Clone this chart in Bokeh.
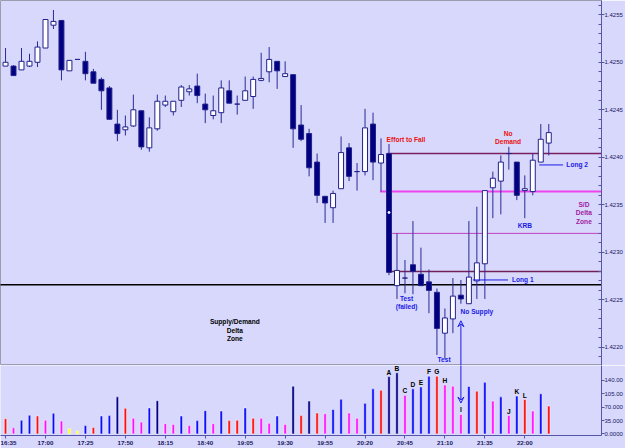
from bokeh.plotting import figure
from bokeh.layouts import column
from bokeh.models import (Range1d, FixedTicker, PrintfTickFormatter, ColumnDataSource,
                          Label, Arrow, VeeHead)
from bokeh.core.properties import value
from bokeh.embed import file_html
from bokeh.resources import INLINE

# ---------------- data ----------------
tick_times = ["16:35", "17:00", "17:25", "17:50", "18:15", "18:40", "19:05",
              "19:30", "19:55", "20:20", "20:45", "21:10", "21:35", "22:00"]

opens = [1.42496, 1.42496, 1.42492, 1.42496, 1.42500, 1.42515, 1.42539, 1.42544, 1.42491, 1.42503,
         1.42501, 1.42490, 1.42482, 1.42473, 1.42435, 1.42429, 1.42433, 1.42449, 1.42410, 1.42430,
         1.42455, 1.42448, 1.42460, 1.42469, 1.42475, 1.42456, 1.42444, 1.42447, 1.42470, 1.42456,
         1.42460, 1.42464, 1.42481, 1.42490, 1.42501, 1.42485, 1.42487, 1.42434, 1.42425, 1.42395,
         1.42359, 1.42347, 1.42367, 1.42410, 1.42385, 1.42385, 1.42435, 1.42394, 1.42404, 1.42265,
         1.42273, 1.42287, 1.42277, 1.42269, 1.42258, 1.42215, 1.42230, 1.42255, 1.42246, 1.42270,
         1.42288, 1.42368, 1.42375, 1.42404, 1.42395, 1.42365, 1.42364, 1.42395, 1.42415]
highs = [1.42515, 1.42497, 1.42515, 1.42509, 1.42522, 1.42545, 1.42555, 1.42544, 1.42502, 1.42503,
         1.42511, 1.42493, 1.42484, 1.42475, 1.42450, 1.42444, 1.42466, 1.42449, 1.42442, 1.42466,
         1.42465, 1.42459, 1.42476, 1.42476, 1.42488, 1.42467, 1.42465, 1.42481, 1.42481, 1.42465,
         1.42485, 1.42485, 1.42510, 1.42516, 1.42501, 1.42501, 1.42487, 1.42455, 1.42430, 1.42404,
         1.42359, 1.42365, 1.42422, 1.42415, 1.42394, 1.42451, 1.42447, 1.42420, 1.42414, 1.42320,
         1.42292, 1.42333, 1.42305, 1.42282, 1.42262, 1.42241, 1.42273, 1.42271, 1.42333, 1.42348,
         1.42365, 1.42385, 1.42402, 1.42411, 1.42395, 1.42381, 1.42404, 1.42435, 1.42435]
lows = [1.42496, 1.42486, 1.42492, 1.42495, 1.42495, 1.42515, 1.42535, 1.42481, 1.42491, 1.42503,
        1.42481, 1.42478, 1.42450, 1.42440, 1.42417, 1.42423, 1.42432, 1.42408, 1.42406, 1.42428,
        1.42453, 1.42444, 1.42453, 1.42465, 1.42457, 1.42436, 1.42440, 1.42436, 1.42457, 1.42445,
        1.42460, 1.42451, 1.42480, 1.42479, 1.42472, 1.42485, 1.42410, 1.42417, 1.42380, 1.42352,
        1.42331, 1.42331, 1.42367, 1.42375, 1.42365, 1.42381, 1.42376, 1.42364, 1.42276, 1.42251,
        1.42257, 1.42256, 1.42265, 1.42236, 1.42192, 1.42188, 1.42215, 1.42246, 1.42246, 1.42251,
        1.42251, 1.42336, 1.42340, 1.42387, 1.42355, 1.42336, 1.42360, 1.42395, 1.42402]
closes = [1.42500, 1.42486, 1.42501, 1.42501, 1.42516, 1.42545, 1.42543, 1.42492, 1.42502, 1.42503,
          1.42488, 1.42478, 1.42470, 1.42440, 1.42425, 1.42432, 1.42450, 1.42411, 1.42431, 1.42459,
          1.42459, 1.42459, 1.42474, 1.42472, 1.42465, 1.42450, 1.42449, 1.42473, 1.42457, 1.42456,
          1.42470, 1.42482, 1.42483, 1.42503, 1.42491, 1.42488, 1.42430, 1.42419, 1.42389, 1.42360,
          1.42352, 1.42362, 1.42405, 1.42380, 1.42385, 1.42431, 1.42395, 1.42403, 1.42279, 1.42281,
          1.42273, 1.42280, 1.42265, 1.42260, 1.42220, 1.42231, 1.42254, 1.42251, 1.42274, 1.42289,
          1.42365, 1.42378, 1.42395, 1.42404, 1.42360, 1.42367, 1.42397, 1.42419, 1.42426]

volumes = [40, 16, 36, 49, 47, 36, 54, 34, 14, 8,
           22, 17, 47, 48, 97, 67, 41, 31, 68, 87,
           27, 25, 47, 22, 35, 61, 27, 60, 35, 36,
           68, 41, 41, 28, 47, 25, 125, 48, 86, 55,
           53, 64, 91, 55, 41, 80, 118, 114, 150, 160,
           101, 118, 123, 151, 151, 128, 125, 51, 124, 112,
           135, 86, 97, 48, 99, 90, 60, 105, 73]
vol_class = list("rmbbrmbmyybrbbnrmmbnmmbmbbmbrrbrmmbmnrnrmbbmmbbrnnmbbbrmmmbrbmbmbrmbr")

vol_letters = ["A", "B", "C", "D", "E", "F", "G", "H", "I", "J", "K", "L"]
vol_letter_bars = [48, 49, 50, 51, 52, 53, 54, 55, 57, 63, 64, 65]

price_ticks = [1.4220, 1.4225, 1.4230, 1.4235, 1.4240, 1.4245, 1.4250, 1.4255]
vol_ticks = [0, 35, 70, 105, 140]
vol_tick_labels = ["0.0000", "35.000", "70.000", "105.00", "140.00"]
last_price_label = "1.4242"

# support / resistance levels: price, first bar
level_price = [1.42404, 1.42364, 1.42320, 1.42280, 1.42266]
level_start = [47.8, 46.9, 48.4, 47.8, -5]

# ---------------- styling ----------------
BG = "#d8d8fc"
FONT = "Liberation Sans"
AXIS_C = "#5656a6"
LABEL_C = "#16165e"
NAVY = "#000080"
RED = "#e81010"
BLUE = "#1a1ae6"
PURPLE = "#a020a0"
vol_palette = {"r": "#ff1010", "m": "#ff10ff", "b": "#0a0aff", "n": "#000088", "y": "#ffff00"}
level_colors = ["#7a2060", "#ee44ee", "#c040c0", "#742058", "#000000"]
level_widths = [1.5, 2, 1, 1.5, 1.5]

n = len(opens)
idx = list(range(n))
X0, X1 = -0.63, 74.6


def style_axis(ax, size="6px", bold=False):
    ax.axis_line_color = AXIS_C
    ax.major_tick_line_color = AXIS_C
    ax.major_tick_in = 0
    ax.major_tick_out = 3
    ax.major_label_standoff = 0
    ax.major_label_text_font = FONT
    ax.major_label_text_font_size = size
    ax.major_label_text_color = LABEL_C
    if bold:
        ax.major_label_text_font_style = "bold"


# ---------------- price panel ----------------
p = figure(width=625, height=365, output_backend="svg", toolbar_location=None,
           x_range=Range1d(X0, X1), y_range=Range1d(1.42181, 1.42565),
           x_axis_location=None, y_axis_location="right",
           min_border_left=0, min_border_right=0, min_border_top=0, min_border_bottom=0,
           background_fill_color=BG, border_fill_color=BG,
           outline_line_color="#9c9cb0", outline_line_width=1)
p.grid.visible = False

ay = p.yaxis[0]
minor = [round(1.4218 + 0.0001 * k, 4) for k in range(39)]
ay.ticker = FixedTicker(ticks=price_ticks, minor_ticks=minor)
ay.formatter = PrintfTickFormatter(format="%.4f")
style_axis(ay)
ay.minor_tick_line_color = AXIS_C
ay.minor_tick_in = 3
ay.minor_tick_out = 0

# levels
p.segment(x0=level_start, y0=level_price, x1=[X1 + 5] * len(level_price), y1=level_price,
          line_color=level_colors, line_width=level_widths)

# candles
src = ColumnDataSource(dict(
    x=idx, o=opens, h=highs, l=lows, c=closes,
    top=[max(a, b) for a, b in zip(opens, closes)],
    bot=[min(a, b) for a, b in zip(opens, closes)],
    fill=["#ffffff" if c > o else NAVY for o, c in zip(opens, closes)],
))
p.segment(x0="x", y0="l", x1="x", y1="h", source=src, line_color="#2a2a96", line_width=1)
p.vbar(x="x", top="top", bottom="bot", width=0.62, source=src,
       fill_color="fill", line_color="#22228c", line_width=1)

# white marker inside the wide bar
p.scatter(x=[48], y=[1.42342], size=2, color="white")

# "Long" pointer lines
p.segment(x0=[58.5, 66.8], y0=[1.42271, 1.42392], x1=[62.9, 69.8], y1=[1.42271, 1.42392],
          line_color=BLUE, line_width=1)

ann = ColumnDataSource(dict(
    x=[47.7, 62.9, 62.9, 70.2, 72.4, 72.4, 72.4, 65.0, 63.4, 50.2, 50.2, 59.0, 54.9, 28.7, 28.7, 28.7],
    y=[1.42419, 1.42425, 1.42417, 1.42392, 1.42350, 1.42342, 1.42332, 1.42328, 1.42271,
       1.42251, 1.42243, 1.42238, 1.42187, 1.42227, 1.42218, 1.42209],
    t=["Effort to Fall", "No", "Demand", "Long 2", "S/D", "Delta", "Zone", "KRB", "Long 1",
       "Test", "(failed)", "No Supply", "Test", "Supply/Demand", "Delta", "Zone"],
    col=[RED, RED, RED, BLUE, PURPLE, PURPLE, PURPLE, BLUE, BLUE,
         BLUE, BLUE, BLUE, BLUE, "#000000", "#000000", "#000000"],
    al=["left", "center", "center", "left", "center", "center", "center", "center", "left",
        "center", "center", "center", "center", "center", "center", "center"],
))
p.text(x="x", y="y", text="t", text_color="col", text_align="al", text_baseline="middle",
       text_font=value(FONT), text_font_size="6.6px", text_font_style="bold", source=ann)

p.add_layout(Arrow(end=VeeHead(size=6, line_color=BLUE, line_width=1, fill_color=None),
                   x_start=57, y_start=1.42150, x_end=57, y_end=1.42228,
                   line_color=BLUE, line_width=1))

p.add_layout(Label(x=X1, y=1.42426, x_offset=1, text=last_price_label,
                   text_font=FONT, text_font_size="6px", text_color="white",
                   text_baseline="middle", background_fill_color="#0c0c66",
                   text_font_style="bold"))

# ---------------- volume panel ----------------
v = figure(width=625, height=83, output_backend="svg", toolbar_location=None,
           x_range=p.x_range, y_range=Range1d(-4, 179), y_axis_location="right",
           min_border_left=0, min_border_right=0, min_border_top=0, min_border_bottom=0,
           background_fill_color=BG, border_fill_color=BG, outline_line_color=None)
v.grid.visible = False

vsrc = ColumnDataSource(dict(x=idx, v=volumes, col=[vol_palette[k] for k in vol_class]))
v.vbar(x="x", top="v", bottom=0, width=0.3, source=vsrc, fill_color="col",
       line_color="white", line_width=0.6, line_alpha=0.8)

lsrc = ColumnDataSource(dict(x=vol_letter_bars, y=[volumes[i] for i in vol_letter_bars], t=vol_letters))
v.text(x="x", y="y", text="t", source=lsrc, text_align="center", text_baseline="bottom",
       y_offset=-1, text_font=value(FONT), text_font_size="6.6px", text_font_style="bold",
       text_color="#000000")

v.add_layout(Arrow(end=VeeHead(size=6, line_color=BLUE, line_width=1, fill_color=None),
                   x_start=57, y_start=200, x_end=57, y_end=81,
                   line_color=BLUE, line_width=1))

vy = v.yaxis[0]
vy.ticker = FixedTicker(ticks=vol_ticks)
vy.major_label_overrides = {t: s for t, s in zip(vol_ticks, vol_tick_labels)}
style_axis(vy)
vy.minor_tick_line_color = None

vx = v.xaxis[0]
tick_pos = [5 * k for k in range(len(tick_times))]
vx.ticker = FixedTicker(ticks=tick_pos)
vx.major_label_overrides = {t: s for t, s in zip(tick_pos, tick_times)}
style_axis(vx, size="6.2px", bold=True)
vx.minor_tick_line_color = None

layout = column(p, v, spacing=0)
open("out.html", "w").write(file_html(layout, INLINE))
